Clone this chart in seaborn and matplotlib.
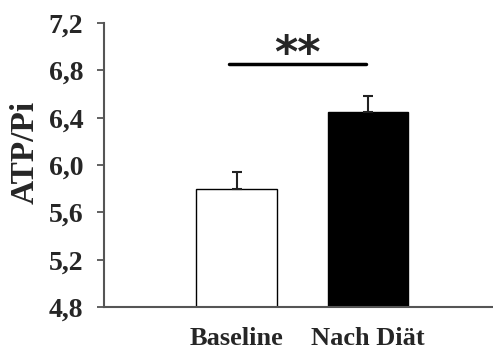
import numpy as np
import matplotlib
matplotlib.use("Agg")
import matplotlib.pyplot as plt
import seaborn as sns

groups = ["Baseline", "Nach Diät"]
means = [5.80, 6.45]
sem = [0.145, 0.135]
bar_colors = ["white", "black"]
ytick_vals = [4.8, 5.2, 5.6, 6.0, 6.4, 6.8, 7.2]
ytick_labels = ["4,8", "5,2", "5,6", "6,0", "6,4", "6,8", "7,2"]
sig_level = 6.854
sig_text = "**"

sns.set_style("white")
plt.rcParams['font.family'] = ['Liberation Serif', 'DejaVu Serif']

fig = plt.figure(figsize=(4.93, 3.49), dpi=100)
ax = fig.add_axes([0.211, 0.120, 0.789, 0.814])

sns.barplot(x=groups, y=means, hue=groups, palette=bar_colors, edgecolor="black",
            linewidth=1.0, width=0.61, legend=False, ax=ax)
ax.errorbar([0, 1], means, yerr=[[0, 0], sem], fmt="none", ecolor="#222222",
            elinewidth=1.5, capsize=3.5, capthick=1.5)

# significance bar
ax.plot([-0.055, 0.985], [sig_level, sig_level], color="black", lw=2.5, clip_on=False)
ax.text(0.46, 6.83, sig_text, ha="center", va="baseline",
        fontsize=32, fontweight="bold", family="DejaVu Sans")

ax.set_xlim(-1.008, 1.95)
ax.set_ylim(4.8, 7.2)
ax.set_yticks(ytick_vals)
ax.set_yticklabels(ytick_labels, fontsize=20, fontweight="bold")
ax.set_xticks([0, 1])
ax.set_xticklabels(groups, fontsize=19, fontweight="bold")
ax.set_ylabel("ATP/Pi", fontsize=24, fontweight="bold")
ax.yaxis.set_label_coords(-0.164, 0.546)
ax.set_xlabel("")

for side in ["top", "right"]:
    ax.spines[side].set_visible(False)
for side in ["left", "bottom"]:
    ax.spines[side].set_color("#555555")
    ax.spines[side].set_linewidth(1.5)
ax.tick_params(axis="y", direction="out", length=5, width=1.3, color="#555555", left=True, pad=10)
ax.tick_params(axis="x", length=0, pad=14)

fig.savefig("out.png", dpi=100)
